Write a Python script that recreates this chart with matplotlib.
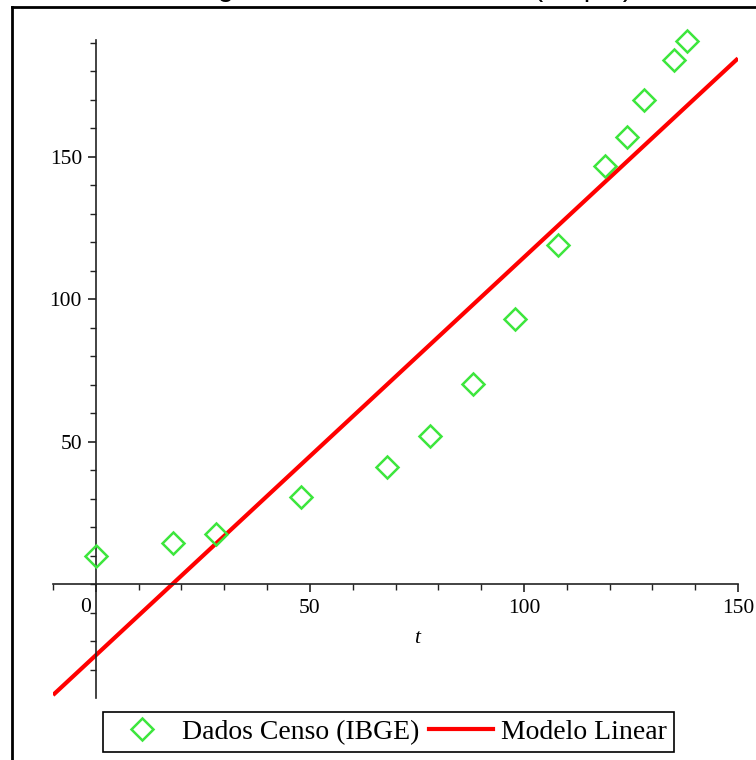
import numpy as np
import matplotlib
matplotlib.use("Agg")
import matplotlib.pyplot as plt
from matplotlib.lines import Line2D

# Censo IBGE: ano e população (milhões)
anos = np.array([1872, 1890, 1900, 1920, 1940, 1950, 1960, 1970, 1980, 1991, 1996, 2000, 2007, 2010])
populacao = np.array([9.9, 14.3, 17.4, 30.6, 41.2, 51.9, 70.1, 93.1, 119.0, 146.8, 157.1, 169.8, 183.9, 190.7])
t = anos - 1872

# modelo linear ajustado aos dados
coef = np.polyfit(t, populacao, 1)
t_modelo = np.array([-10, 150])
p_modelo = np.polyval(coef, t_modelo)

x_ticks = [0, 50, 100, 150]
x_labels = ["", "50", "100", "150"]
y_ticks = [50, 100, 150]
y_labels = ["50", "100", "150"]

serif = "Liberation Serif"
verde = "#3de63d"

fig = plt.figure(figsize=(7.56, 7.60), dpi=100)
ax = fig.add_axes([53 / 756, 1 - 698 / 760, 685 / 756, 658 / 760])

ax.plot(t_modelo, p_modelo, color="red", lw=3.0, solid_capstyle="butt", zorder=2)
ax.plot(t, populacao, linestyle="none", marker="D", markersize=11,
        markerfacecolor="none", markeredgecolor=verde, markeredgewidth=1.8,
        zorder=3, clip_on=False)

ax.set_xlim(-10, 150)
ax.set_ylim(-40, 191)

for s in ["top", "right"]:
    ax.spines[s].set_visible(False)
ax.spines["left"].set_position(("data", 0))
ax.spines["bottom"].set_position(("data", 0))
for s in ["left", "bottom"]:
    ax.spines[s].set_linewidth(1.2)
    ax.spines[s].set_color("#222222")

ax.set_xticks(x_ticks)
ax.set_xticklabels(x_labels)
ax.set_xticks(np.arange(-10, 151, 10), minor=True)
ax.set_yticks(y_ticks)
ax.set_yticklabels(y_labels)
ax.set_yticks(np.arange(-30, 191, 10), minor=True)
ax.tick_params(which="major", direction="out", length=6, width=1.2, color="#222222")
ax.tick_params(which="minor", direction="out", length=4, width=1.0, color="#222222")
ax.tick_params(axis="x", pad=5)
ax.tick_params(axis="y", pad=4)
for lab in ax.get_xticklabels() + ax.get_yticklabels():
    lab.set_fontfamily(serif)
    lab.set_fontsize(15.5)

ax.text(-1.2, -8.3, "0", ha="right", va="center", family=serif, fontsize=15.5)
ax.text(75, -19, "t", ha="center", va="center", family=serif, fontsize=15.5, style="italic")

handles = [
    Line2D([], [], linestyle="none", marker="D", markersize=11, markerfacecolor="none",
           markeredgecolor=verde, markeredgewidth=1.8),
    Line2D([], [], color="red", lw=3.0),
]
leg = fig.legend(handles, ["Dados Censo (IBGE)", "Modelo Linear"], loc="center",
                 bbox_to_anchor=(388.5 / 756, 1 - 732 / 760), ncol=2,
                 prop={"family": serif, "size": 20}, frameon=True, fancybox=False,
                 edgecolor="black", framealpha=1, borderpad=0.25, handlelength=2.3,
                 handletextpad=0.3, columnspacing=0.35)
leg.get_frame().set_linewidth(1.2)

# moldura
fig.add_artist(Line2D([12 / 756, 12 / 756], [0, 1 - 7 / 760], transform=fig.transFigure,
                      color="black", lw=2))
fig.add_artist(Line2D([12 / 756, 1], [1 - 7 / 760, 1 - 7 / 760], transform=fig.transFigure,
                      color="black", lw=2))

# título (quase todo fora da imagem, só aparecem as descendentes)
fig.text(632 / 756, 1 + 4 / 760, "Modelagem Linear dos Censos (Maple)", ha="right",
         va="baseline", family="Liberation Sans", fontsize=21)

fig.savefig("out.png", dpi=100)
